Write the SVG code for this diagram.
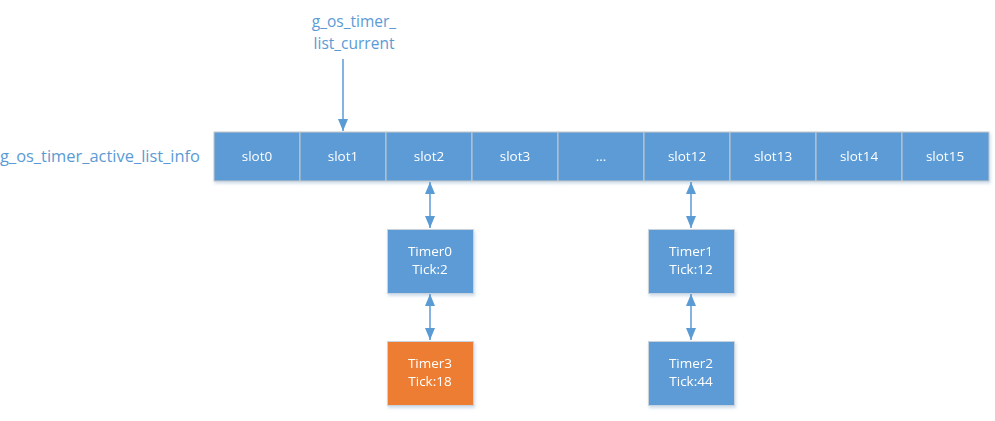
<svg xmlns="http://www.w3.org/2000/svg" width="995" height="421" viewBox="0 0 995 421">
<style>
.slot{fill:#5B9BD5;stroke:#C9C9C9;stroke-width:1}
.box{stroke:#C9D3DD;stroke-width:1}
.t{font-family:"Open Sans","Liberation Sans",sans-serif;font-size:13.5px;fill:#fff;text-anchor:middle}
.lbl{font-family:"Open Sans","Liberation Sans",sans-serif;font-size:15.5px;fill:#5B9BD5}
.c{stroke:#5B9BD5;stroke-width:1.5;fill:none}
</style>
<defs>
<marker id="ah" viewBox="0 0 12 10" refX="12" refY="5" markerWidth="12" markerHeight="10" orient="auto-start-reverse" markerUnits="userSpaceOnUse">
<path d="M0,0 L12,5 L0,10 z" fill="#5B9BD5"/>
</marker>
<filter id="sh" x="-10%" y="-10%" width="130%" height="140%">
<feDropShadow dx="1" dy="2" stdDeviation="1.5" flood-color="#9DB9D6" flood-opacity="0.5"/>
</filter>
</defs>
<text class="lbl" x="354" y="27" text-anchor="middle">g_os_timer_</text>
<text class="lbl" x="354" y="49" text-anchor="middle">list_current</text>
<text class="lbl" x="0" y="162" textLength="200" lengthAdjust="spacingAndGlyphs">g_os_timer_active_list_info</text>
<g id="slots" filter="url(#sh)">
<g id="slot0"><rect class="slot" x="214" y="132" width="86" height="49"/><text class="t" x="257" y="161">slot0</text></g>
<g id="slot1"><rect class="slot" x="300" y="132" width="86" height="49"/><text class="t" x="343" y="161">slot1</text></g>
<g id="slot2"><rect class="slot" x="386" y="132" width="86" height="49"/><text class="t" x="429" y="161">slot2</text></g>
<g id="slot3"><rect class="slot" x="472" y="132" width="86" height="49"/><text class="t" x="515" y="161">slot3</text></g>
<g id="slotdots"><rect class="slot" x="558" y="132" width="86" height="49"/><text class="t" x="601" y="161">...</text></g>
<g id="slot12"><rect class="slot" x="644" y="132" width="86" height="49"/><text class="t" x="687" y="161">slot12</text></g>
<g id="slot13"><rect class="slot" x="730" y="132" width="86" height="49"/><text class="t" x="773" y="161">slot13</text></g>
<g id="slot14"><rect class="slot" x="816" y="132" width="86" height="49"/><text class="t" x="859" y="161">slot14</text></g>
<g id="slot15"><rect class="slot" x="902" y="132" width="87" height="49"/><text class="t" x="945" y="161">slot15</text></g>
</g>
<g id="timer0" filter="url(#sh)"><rect class="box" x="387.5" y="229.5" width="86" height="64" fill="#5B9BD5"/><text class="t" x="430" y="256">Timer0</text><text class="t" x="430" y="274">Tick:2</text></g>
<g id="timer3" filter="url(#sh)"><rect class="box" x="387.5" y="341.5" width="86" height="64" fill="#ED7D31"/><text class="t" x="430" y="368">Timer3</text><text class="t" x="430" y="386">Tick:18</text></g>
<g id="timer1" filter="url(#sh)"><rect class="box" x="648.5" y="229.5" width="86" height="64" fill="#5B9BD5"/><text class="t" x="691" y="256">Timer1</text><text class="t" x="691" y="274">Tick:12</text></g>
<g id="timer2" filter="url(#sh)"><rect class="box" x="648.5" y="341.5" width="86" height="64" fill="#5B9BD5"/><text class="t" x="691" y="368">Timer2</text><text class="t" x="691" y="386">Tick:44</text></g>
<g id="connectors">
<line class="c" x1="343" y1="59" x2="343" y2="131" marker-end="url(#ah)"/>
<line class="c" x1="430" y1="182" x2="430" y2="228" marker-start="url(#ah)" marker-end="url(#ah)"/>
<line class="c" x1="430" y1="294" x2="430" y2="340" marker-start="url(#ah)" marker-end="url(#ah)"/>
<line class="c" x1="691" y1="182" x2="691" y2="228" marker-start="url(#ah)" marker-end="url(#ah)"/>
<line class="c" x1="691" y1="294" x2="691" y2="340" marker-start="url(#ah)" marker-end="url(#ah)"/>
</g>
</svg>
